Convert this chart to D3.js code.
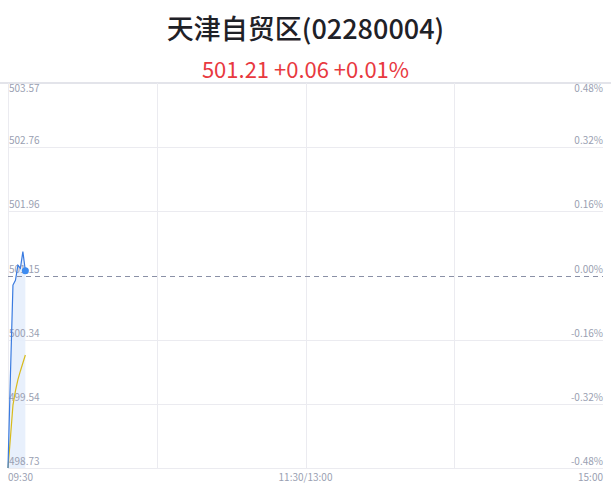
<!DOCTYPE html>
<html>
<head>
<meta charset="utf-8">
<script src="https://cdn.jsdelivr.net/npm/d3@7"></script>
<style>
  body { margin: 0; background: #fff; }
  svg { display: block; font-family: "Noto Sans CJK SC", "Noto Sans", sans-serif; }
</style>
</head>
<body>
<div id="chart"></div>
<script>
// Chart text
var title = "天津自贸区(02280004)";
var subtitle = "501.21 +0.06 +0.01%";

// Previous close and price axis ticks (top to bottom)
var prevClose = 501.15;
var priceTicks = [503.57, 502.76, 501.96, 501.15, 500.34, 499.54, 498.73];
var pctTicks = ["0.48%", "0.32%", "0.16%", "0.00%", "-0.16%", "-0.32%", "-0.48%"];

// Time axis: minute index 0..240 (09:30 - 11:30 / 13:00 - 15:00)
var timeTickIdx = [0, 120, 240];
var timeTickLabels = ["09:30", "11:30/13:00", "15:00"];
var gridIdx = [60, 120, 180];

// Minute prices and running average
var minuteIdx = [0, 1, 2, 3, 4, 5, 6, 7];
var prices = [498.73, 499.92, 501.03, 501.09, 501.28, 501.24, 501.45, 501.21];
var avgPrices = [498.73, 499.12, 499.52, 499.70, 499.84, 499.95, 500.05, 500.15];

var svgWidth = 611;
var svgHeight = 492;

var svg = d3.select("#chart")
  .append("svg")
  .attr("width", svgWidth)
  .attr("height", svgHeight);

// Title and quote line
svg.append("text")
  .attr("x", svgWidth / 2)
  .attr("y", 39)
  .attr("text-anchor", "middle")
  .attr("font-size", "27px")
  .attr("font-weight", "500")
  .attr("fill", "#1f2127")
  .text(title);

svg.append("text")
  .attr("x", svgWidth / 2)
  .attr("y", 78)
  .attr("text-anchor", "middle")
  .attr("font-size", "22px")
  .attr("fill", "#e8393f")
  .text(subtitle);

// Scales
var xScale = d3.scaleLinear()
  .domain([0, 240])
  .range([8, 603]);

var yScale = d3.scaleLinear()
  .domain([d3.min(priceTicks), d3.max(priceTicks)])
  .range([468, 83]);

// Top border spanning the full width
svg.append("line")
  .attr("x1", 0)
  .attr("x2", svgWidth)
  .attr("y1", yScale(priceTicks[0]))
  .attr("y2", yScale(priceTicks[0]))
  .attr("stroke", "#e3e4ea")
  .attr("stroke-width", 2);

// Horizontal grid lines (skip the top one and the middle dashed one)
var gridGroup = svg.append("g");
gridGroup.selectAll(".hgrid")
  .data(priceTicks.filter(function(d, i) { return i > 0 && d !== prevClose; }))
  .enter()
  .append("line")
  .attr("x1", xScale(0))
  .attr("x2", xScale(240))
  .attr("y1", d => Math.round(yScale(d)) + 0.5)
  .attr("y2", d => Math.round(yScale(d)) + 0.5)
  .attr("stroke", "#ebebf0")
  .attr("stroke-width", 1);

// Vertical grid lines
gridGroup.selectAll(".vgrid")
  .data([0].concat(gridIdx))
  .enter()
  .append("line")
  .attr("x1", d => Math.round(xScale(d)) + 0.5)
  .attr("x2", d => Math.round(xScale(d)) + 0.5)
  .attr("y1", yScale(priceTicks[0]))
  .attr("y2", yScale(priceTicks[priceTicks.length - 1]))
  .attr("stroke", "#ebebf0")
  .attr("stroke-width", 1);

// Shaded area under the price line
var priceArea = d3.area()
  .x((d, i) => xScale(minuteIdx[i]))
  .y0(yScale(priceTicks[priceTicks.length - 1]))
  .y1(d => yScale(d));

svg.append("path")
  .datum(prices)
  .attr("d", priceArea)
  .attr("fill", "#e6eefc")
  .attr("opacity", 0.9);

// Previous close dashed line
svg.append("line")
  .attr("x1", xScale(0))
  .attr("x2", xScale(240))
  .attr("y1", Math.round(yScale(prevClose)) + 0.5)
  .attr("y2", Math.round(yScale(prevClose)) + 0.5)
  .attr("stroke", "#8a90a6")
  .attr("stroke-dasharray", "5,4")
  .attr("stroke-width", 1);

// Left price labels
svg.append("g").selectAll("text")
  .data(priceTicks)
  .enter()
  .append("text")
  .attr("x", xScale(0) + 1)
  .attr("y", (d, i) => i === 0 ? yScale(d) + 9 : yScale(d) - 3)
  .attr("font-size", "10px")
  .attr("fill", "#9a9fb2")
  .text(d => d.toFixed(2));

// Right percent labels
svg.append("g").selectAll("text")
  .data(pctTicks)
  .enter()
  .append("text")
  .attr("x", xScale(240))
  .attr("y", (d, i) => i === 0 ? yScale(priceTicks[i]) + 9 : yScale(priceTicks[i]) - 3)
  .attr("text-anchor", "end")
  .attr("font-size", "10px")
  .attr("fill", "#9a9fb2")
  .text(d => d);

// Time labels
svg.append("g").selectAll("text")
  .data(timeTickIdx)
  .enter()
  .append("text")
  .attr("x", d => xScale(d))
  .attr("y", 481)
  .attr("text-anchor", (d, i) => i === 0 ? "start" : (i === 2 ? "end" : "middle"))
  .attr("font-size", "10px")
  .attr("fill", "#9a9fb2")
  .text((d, i) => timeTickLabels[i]);

// Price and average lines
var priceLine = d3.line()
  .x((d, i) => xScale(minuteIdx[i]))
  .y(d => yScale(d));

svg.append("path")
  .datum(avgPrices)
  .attr("d", priceLine)
  .attr("fill", "none")
  .attr("stroke", "#d8bb1c")
  .attr("stroke-width", 1.2);

svg.append("path")
  .datum(prices)
  .attr("d", priceLine)
  .attr("fill", "none")
  .attr("stroke", "#3a7be0")
  .attr("stroke-width", 1.2);

// Last price dot
svg.append("circle")
  .attr("cx", xScale(minuteIdx[minuteIdx.length - 1]))
  .attr("cy", yScale(prices[prices.length - 1]))
  .attr("r", 3.5)
  .attr("fill", "#3d8bf0");
</script>
</body>
</html>
